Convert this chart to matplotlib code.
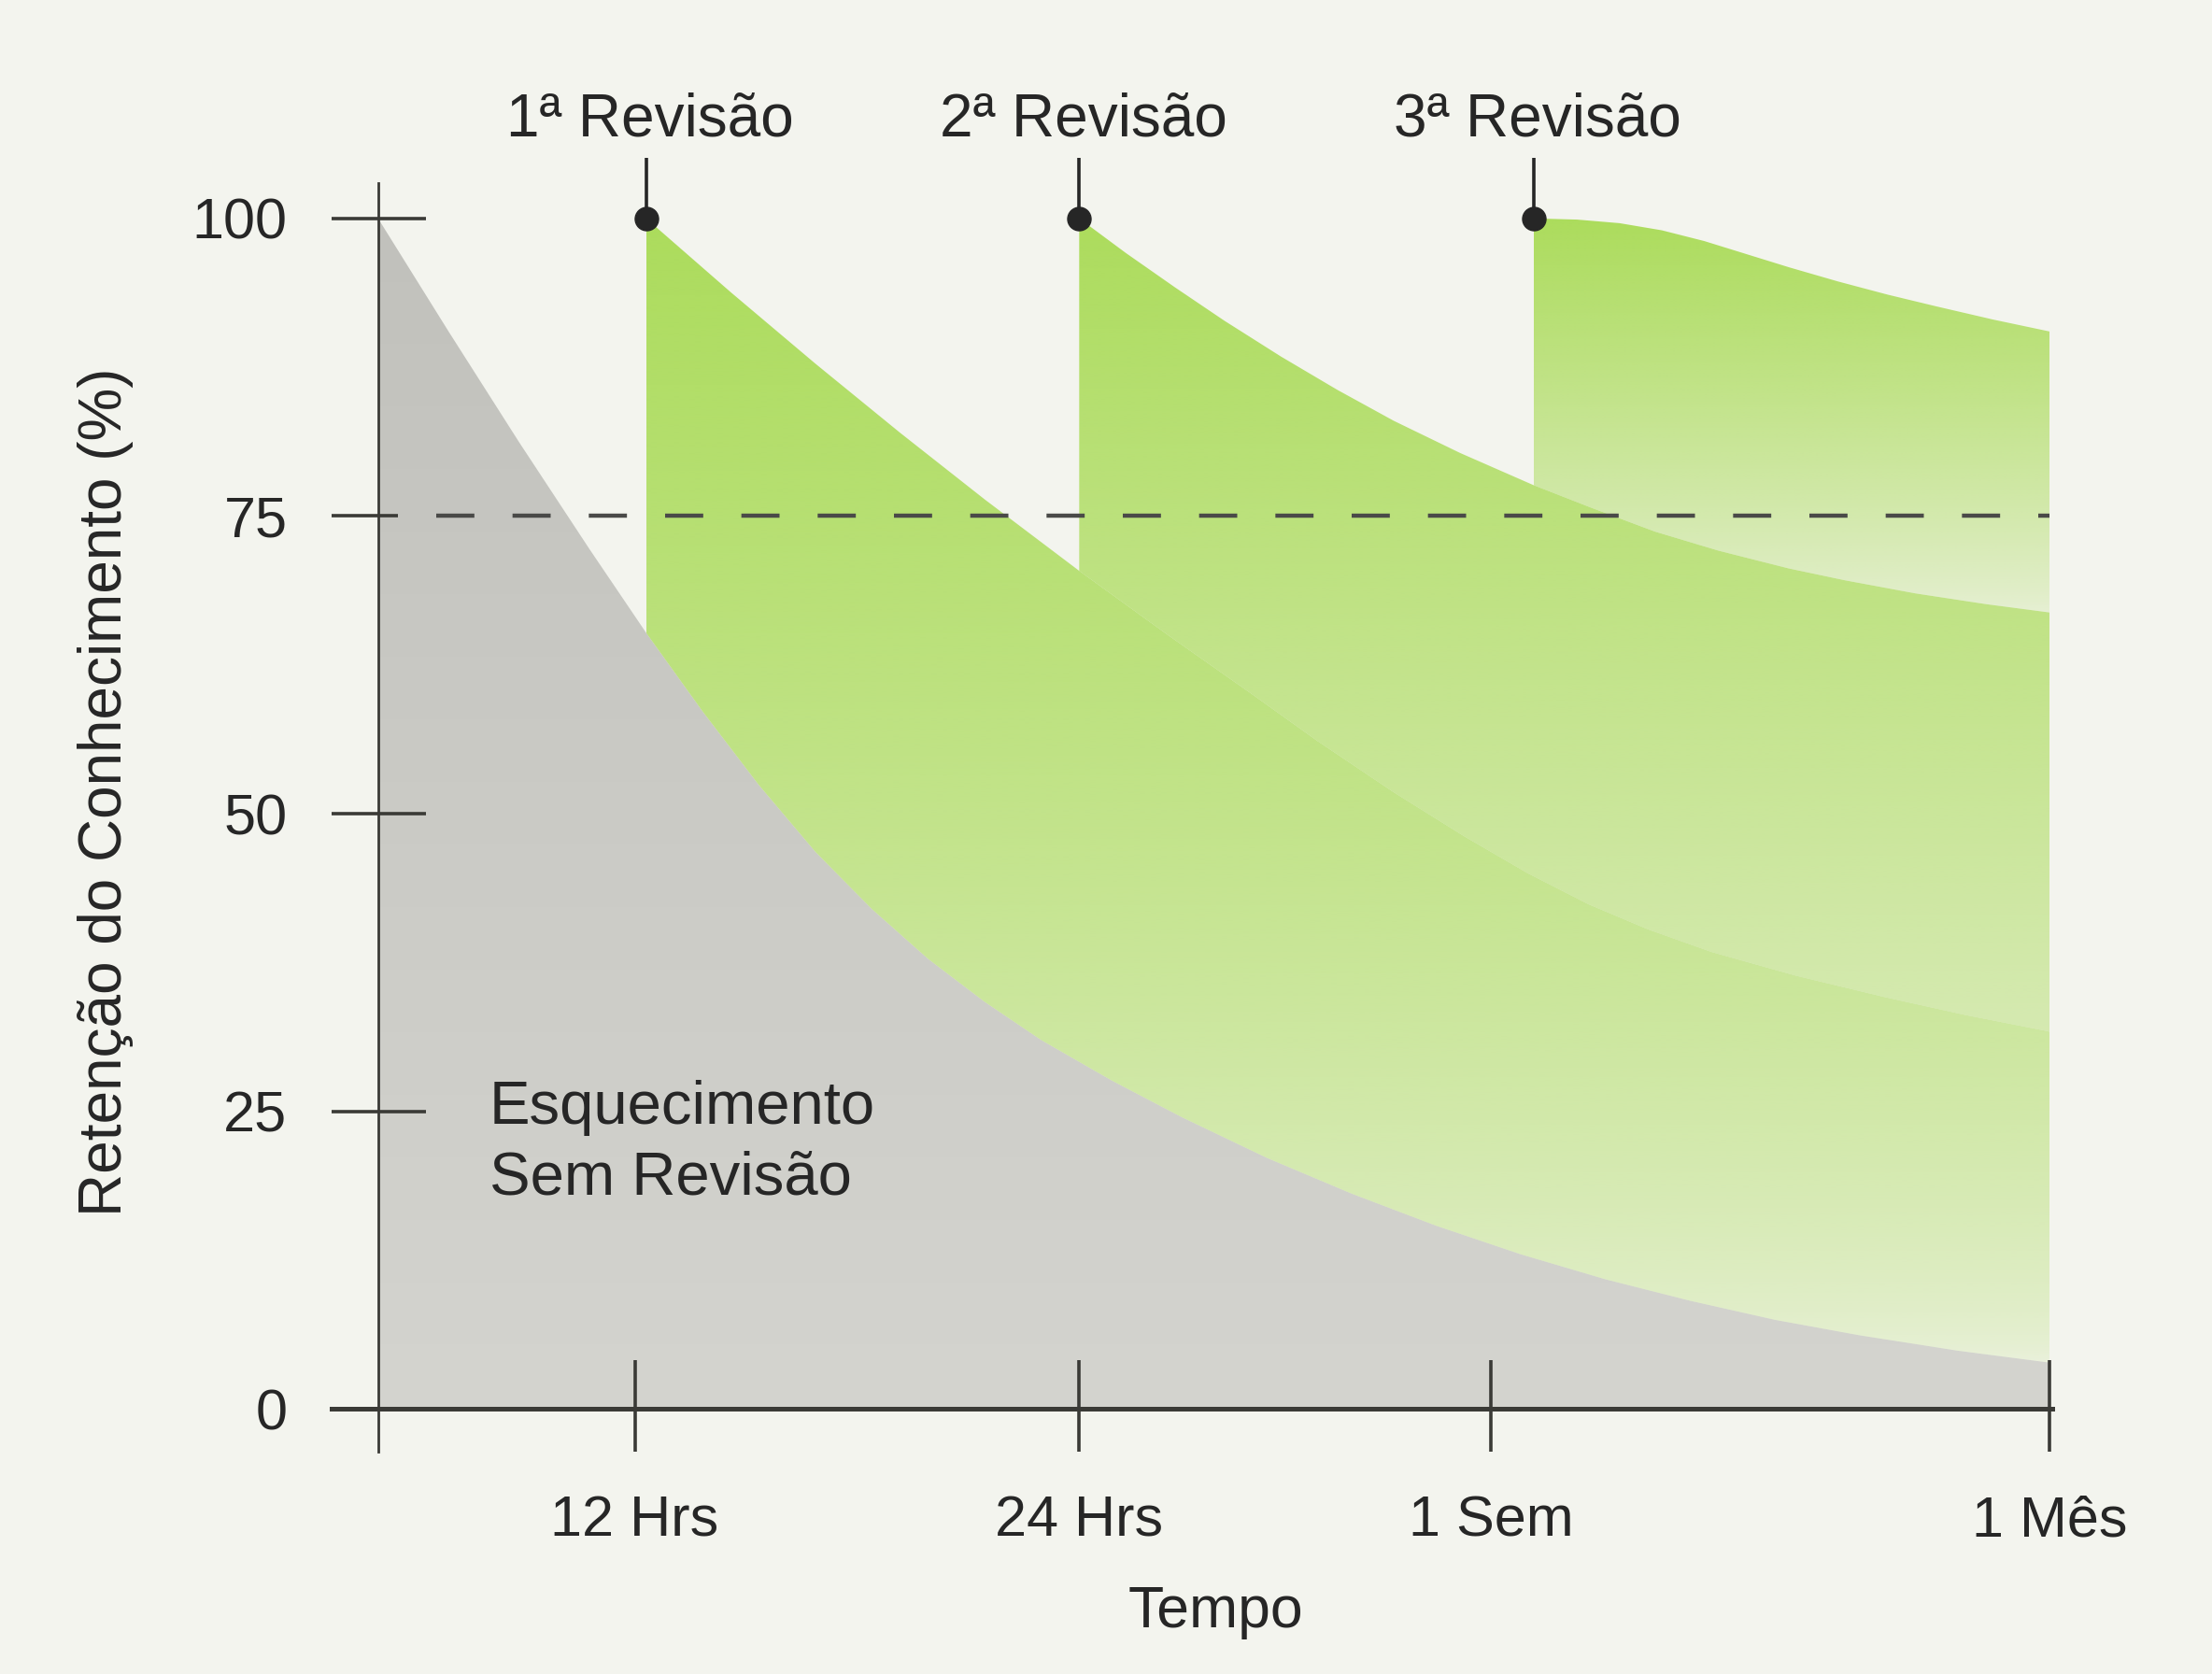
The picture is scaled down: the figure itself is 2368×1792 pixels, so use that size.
import numpy as np
import matplotlib
matplotlib.use('Agg')
import matplotlib.pyplot as plt
from matplotlib.colors import to_rgb

plt.rcParams['font.family'] = ['Liberation Sans', 'DejaVu Sans']

# positions on the (non linear) time axis, 0 = start
xtick_pos = [1.82, 4.97, 7.89, 11.85]
xtick_labels = ['12 Hrs', '24 Hrs', '1 Sem', '1 Mês']
ytick_vals = [0, 25, 50, 75, 100]
threshold = 75

review_labels = ['1ª Revisão', '2ª Revisão', '3ª Revisão']

# forgetting curve without review
gray_x = [0, 0.5, 1.0, 1.5, 1.9, 2.3, 2.7, 3.1, 3.5, 3.9, 4.3, 4.7, 5.2, 5.7,
          6.3, 6.9, 7.5, 8.1, 8.7, 9.3, 9.9, 10.5, 11.2, 11.85]
gray_y = [100, 90.5, 81.2, 72.2, 65.2, 58.6, 52.4, 46.8, 42.0, 37.8, 34.2, 31.0,
          27.6, 24.5, 21.1, 18.1, 15.4, 13.0, 10.9, 9.1, 7.5, 6.2, 4.9, 3.9]

# curves after each review
rev1_x = [1.9, 2.5, 3.1, 3.7, 4.3, 4.97, 5.6, 6.2, 6.66, 7.2, 7.7, 8.15, 8.58,
          9.0, 9.45, 10.05, 10.68, 11.25, 11.85]
rev1_y = [100, 93.8, 87.8, 82.0, 76.4, 70.4, 65.0, 60.0, 56.1, 51.8, 48.1, 45.0,
          42.4, 40.3, 38.4, 36.4, 34.6, 33.1, 31.7]

rev2_x = [4.97, 5.3, 5.65, 6.0, 6.4, 6.8, 7.2, 7.67, 8.19, 8.6, 9.05, 9.5,
          10.0, 10.4, 10.9, 11.4, 11.85]
rev2_y = [100, 97.1, 94.2, 91.4, 88.4, 85.6, 83.0, 80.3, 77.6, 75.7, 73.7, 72.1,
          70.6, 69.6, 68.5, 67.6, 66.9]

rev3_x = [8.19, 8.5, 8.8, 9.1, 9.4, 9.7, 10.0, 10.35, 10.7, 11.05, 11.45, 11.85]
rev3_y = [100, 99.9, 99.6, 99.0, 98.1, 97.0, 95.9, 94.7, 93.6, 92.6, 91.5, 90.5]

bg = '#f3f4ee'
ink = '#262626'
axis_col = '#3a3a36'
green = to_rgb('#acdc5c')


def gradient_band(ax, top_x, top_y, bot_x, bot_y, a_lo, gamma, zorder):
    top_x, top_y = np.asarray(top_x), np.asarray(top_y)
    bot_x, bot_y = np.asarray(bot_x), np.asarray(bot_y)
    keep = bot_x >= top_x[0]
    px = np.concatenate([top_x, bot_x[keep][::-1]])
    py = np.concatenate([top_y, bot_y[keep][::-1]])
    poly = ax.fill(px, py, facecolor='none', edgecolor='none', zorder=zorder)[0]
    t = np.linspace(0, 1, 400) ** gamma
    img = np.zeros((400, 1, 4))
    img[..., :3] = green
    img[:, 0, 3] = a_lo + (1 - a_lo) * t
    im = ax.imshow(img, extent=[px.min(), px.max(), py.min(), py.max()],
                   origin='lower', aspect='auto', interpolation='bilinear', zorder=zorder)
    im.set_clip_path(poly)


fig = plt.figure(figsize=(23.68, 17.92), dpi=100, facecolor=bg)
ax = fig.add_axes([0.17092, 0.15825, 0.75574, 0.71128])
ax.set_facecolor(bg)

# gray area (no review)
gpoly = ax.fill_between(gray_x, 0, gray_y, facecolor='none', edgecolor='none')
c_top, c_bot = np.array(to_rgb('#c1c1bc')), np.array(to_rgb('#d4d4cf'))
t = np.linspace(0, 1, 400)[:, None, None]
gimg = c_bot + (c_top - c_bot) * t
gim = ax.imshow(gimg, extent=[0, max(gray_x), 0, 100], origin='lower',
                aspect='auto', interpolation='bilinear', zorder=1)
gim.set_clip_path(gpoly.get_paths()[0], transform=ax.transData)

# green bands
gradient_band(ax, rev1_x, rev1_y, gray_x, gray_y, 0.12, 0.6, 2)
gradient_band(ax, rev2_x, rev2_y, rev1_x, rev1_y, 0.42, 1.0, 3)
gradient_band(ax, rev3_x, rev3_y, rev2_x, rev2_y, 0.18, 0.8, 4)

ax.text(0.79, 24.0, 'Esquecimento', fontsize=47, color=ink, zorder=7)
ax.text(0.79, 18.0, 'Sem Revisão', fontsize=47, color=ink, zorder=7)

# 75% dashed threshold
lw_d = 3.2
ax.plot([0.41, max(rev1_x)], [threshold, threshold], color='#4a4a48', lw=lw_d,
        dashes=(29.4 / lw_d, 29.4 / lw_d), zorder=6)

# axes drawn by hand
ax.plot([-0.33, 11.87], [0, 0], color=axis_col, lw=3.6, clip_on=False, zorder=8)
ax.plot([0, 0], [-3.55, 103], color=axis_col, lw=2.0, clip_on=False, zorder=8)
long_ticks = [v for v in ytick_vals if v not in (0, threshold)]
ax.hlines(long_ticks, -0.33, 0.34, color=axis_col, lw=2.6, clip_on=False, zorder=8)
ax.hlines([threshold], -0.33, 0.14, color=axis_col, lw=2.6, clip_on=False, zorder=8)
ax.vlines(xtick_pos, -3.55, 4.14, color=axis_col, lw=2.6, clip_on=False, zorder=8)

# review markers
starts_x = [rev1_x[0], rev2_x[0], rev3_x[0]]
starts_y = [rev1_y[0], rev2_y[0], rev3_y[0]]
ax.vlines(starts_x, starts_y, 105.1, color=ink, lw=2.6, clip_on=False, zorder=9)
ax.plot(starts_x, starts_y, 'o', ms=18, color=ink, clip_on=False, zorder=10)
for x, lab in zip(starts_x, review_labels):
    ax.text(x + 0.03, 106.9, lab, fontsize=46, color=ink, ha='center', va='baseline')

ax.set_xlim(0, 11.85)
ax.set_ylim(0, 100)
for s in ax.spines.values():
    s.set_visible(False)
ax.set_yticks(ytick_vals, [str(v) for v in ytick_vals])
ax.set_xticks(xtick_pos, xtick_labels)
ax.tick_params(axis='y', length=0, pad=70, labelsize=44, labelcolor=ink)
ax.tick_params(axis='x', length=0, pad=66, labelsize=44, labelcolor=ink)

ax.set_ylabel('Retenção do Conhecimento (%)', fontsize=46, color=ink, va='center')
ax.yaxis.set_label_coords(-0.163, 0.518)
ax.set_xlabel('Tempo', fontsize=45, color=ink, va='baseline')
ax.xaxis.set_label_coords(0.501, -0.1834)

fig.savefig('out.png', dpi=100, facecolor=bg)
